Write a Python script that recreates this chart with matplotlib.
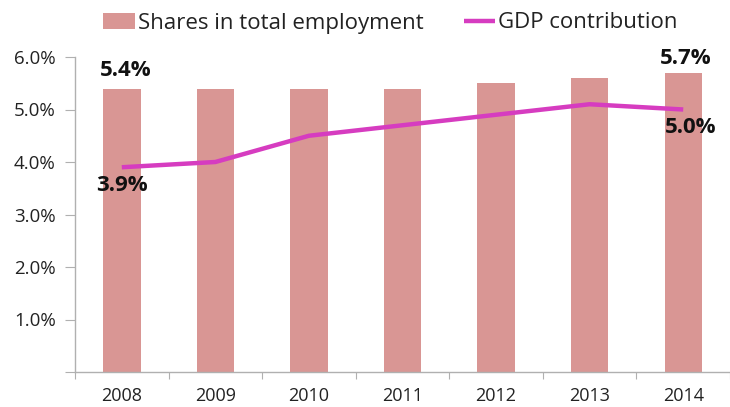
import matplotlib.pyplot as plt
import numpy as np

plt.rcParams['font.family'] = ['Open Sans', 'DejaVu Sans']

years = ['2008', '2009', '2010', '2011', '2012', '2013', '2014']
employment_share = [5.4, 5.4, 5.4, 5.4, 5.5, 5.6, 5.7]
gdp_contribution = [3.9, 4.0, 4.5, 4.7, 4.9, 5.1, 5.0]

bar_color = '#D99694'
line_color = '#D63CC0'
axis_color = '#B0B0B0'

fig = plt.figure(figsize=(7.3, 4.07), dpi=100)
ax = fig.add_axes([75 / 730, 1 - 372 / 407, 655 / 730, (372 - 57) / 407])

x = np.arange(len(years))
bars = ax.bar(x, employment_share, width=0.4, color=bar_color, label='Shares in total employment', zorder=2)
line, = ax.plot(x, gdp_contribution, color=line_color, lw=3.2, solid_capstyle='butt',
                label='GDP contribution', zorder=3)

ax.set_xlim(-0.5, len(years) - 0.5)
ax.set_ylim(0, 6)
ax.set_yticks(np.arange(0, 7, 1))
ax.set_yticklabels([''] + ['%.1f%%' % v for v in range(1, 7)])

# category boundaries get the x tick marks, labels sit in between
ax.set_xticks(np.arange(-0.5, len(years), 1))
ax.set_xticklabels([])
ax.set_xticks(x, minor=True)
ax.set_xticklabels(years, minor=True)
ax.tick_params(axis='x', which='minor', length=0, labelsize=13, pad=11, colors='#222222')
ax.tick_params(axis='x', which='major', length=5, color=axis_color)
ax.tick_params(axis='y', length=7, color=axis_color, labelsize=13.5, labelcolor='#222222', pad=7)

for side in ['top', 'right']:
    ax.spines[side].set_visible(False)
for side in ['left', 'bottom']:
    ax.spines[side].set_color(axis_color)
    ax.spines[side].set_linewidth(1.0)

# value labels for first and last year
lab = dict(fontsize=16, fontweight='bold', color='#111111', ha='center', va='center')
ax.annotate('%.1f%%' % employment_share[0], (x[0], employment_share[0]),
            xytext=(3, 13), textcoords='offset points', **lab)
ax.annotate('%.1f%%' % gdp_contribution[0], (x[0], gdp_contribution[0]),
            xytext=(0, -13), textcoords='offset points', **lab)
ax.annotate('%.1f%%' % employment_share[-1], (x[-1], employment_share[-1]),
            xytext=(2, 10), textcoords='offset points', **lab)
ax.annotate('%.1f%%' % gdp_contribution[-1], (x[-1], gdp_contribution[-1]),
            xytext=(5, -13), textcoords='offset points', **lab)

fig.legend(handles=[bars, line], loc='center', bbox_to_anchor=(0.535, 1 - 23 / 407),
           ncol=2, frameon=False, fontsize=16, handlelength=1.4, handletextpad=0.15,
           columnspacing=1.8, labelcolor='#222222')

fig.savefig('out.png', dpi=100)
